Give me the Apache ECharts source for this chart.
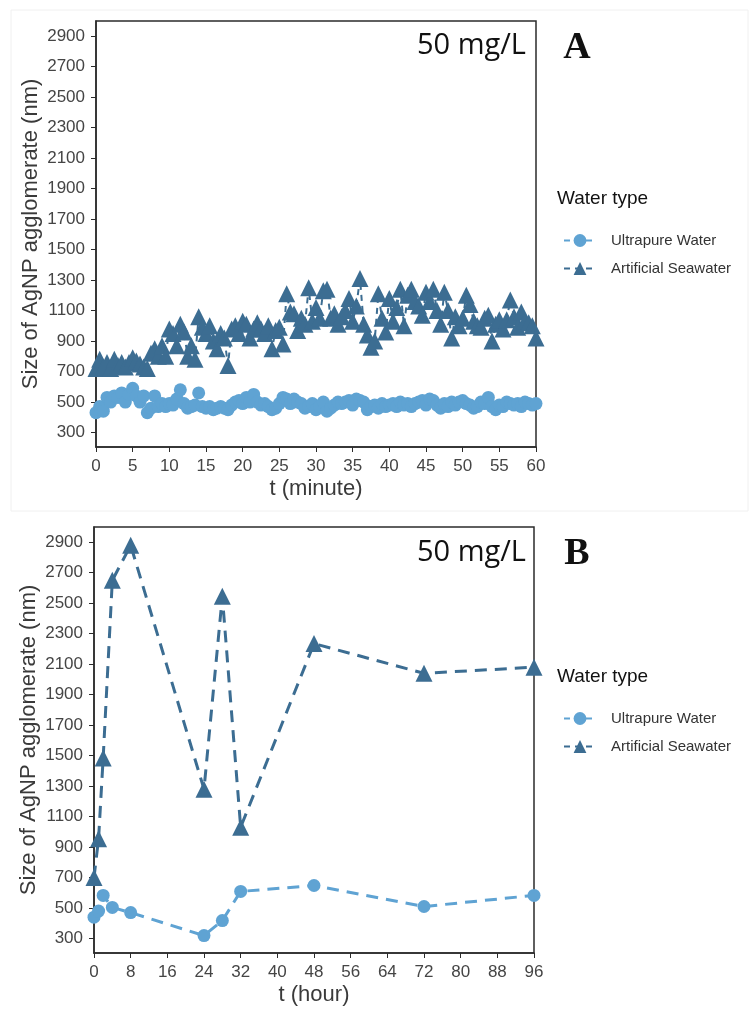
<!DOCTYPE html>
<html>
<head>
<meta charset="utf-8">
<script src="https://cdn.jsdelivr.net/npm/echarts@6/dist/echarts.min.js"></script>
<style>
  html, body { margin: 0; padding: 0; background: #fff; }
  #chart { width: 749px; height: 1009px; }
</style>
</head>
<body>
<div id="chart"></div>
<script>
// Panel A: first hour, sampled every 0.5 minute
const minutes = [
  0, 0.5, 1, 1.5, 2, 2.5, 3, 3.5, 4, 4.5,
  5, 5.5, 6, 6.5, 7, 7.5, 8, 8.5, 9, 9.5,
  10, 10.5, 11, 11.5, 12, 12.5, 13, 13.5, 14, 14.5,
  15, 15.5, 16, 16.5, 17, 17.5, 18, 18.5, 19, 19.5,
  20, 20.5, 21, 21.5, 22, 22.5, 23, 23.5, 24, 24.5,
  25, 25.5, 26, 26.5, 27, 27.5, 28, 28.5, 29, 29.5,
  30, 30.5, 31, 31.5, 32, 32.5, 33, 33.5, 34, 34.5,
  35, 35.5, 36, 36.5, 37, 37.5, 38, 38.5, 39, 39.5,
  40, 40.5, 41, 41.5, 42, 42.5, 43, 43.5, 44, 44.5,
  45, 45.5, 46, 46.5, 47, 47.5, 48, 48.5, 49, 49.5,
  50, 50.5, 51, 51.5, 52, 52.5, 53, 53.5, 54, 54.5,
  55, 55.5, 56, 56.5, 57, 57.5, 58, 58.5, 59, 59.5,
  60
];
const ultrapureA = [
  430, 470, 440, 530, 500, 540, 530, 560, 500, 550,
  590, 540, 500, 540, 430, 460, 540, 470, 490, 470,
  490, 480, 520, 580, 490, 460, 470, 480, 560, 470,
  460, 470, 450, 460, 470, 460, 450, 480, 500, 510,
  490, 530, 500, 550, 500, 480, 490, 470, 450, 460,
  490, 530, 520, 490, 520, 500, 490, 460, 470, 490,
  450, 470, 500, 440, 460, 480, 500, 490, 500, 510,
  480, 520, 510, 500, 450, 470, 480, 460, 490, 470,
  480, 490, 470, 500, 480, 490, 470, 490, 500, 510,
  480, 520, 510, 480, 460, 490, 470, 500, 480, 500,
  510, 490, 480, 460, 470, 500, 490, 530, 470, 450,
  480, 470, 500, 490, 480, 490, 470, 500, 490, 480,
  490
];
const seawaterA = [
  720, 780, 730, 760, 720, 780, 740, 760, 730, 760,
  790, 770, 750, 730, 720, 820, 850, 800, 870, 800,
  980, 950, 870, 1010, 960, 800, 870, 780, 1060, 990,
  950, 1000, 900, 850, 950, 920, 740, 980, 1000, 950,
  1030, 1010, 920, 980, 1020, 980, 950, 1000, 850, 970,
  990, 880, 1210, 1090, 1080, 970, 1050, 1010, 1250, 1030,
  1120, 1050, 1230, 1240, 1050, 1080, 1010, 1060, 1100, 1180,
  1030, 1130, 1310, 1010, 940, 860, 900, 1210, 1050, 960,
  1180, 1030, 1120, 1240, 1000, 1200, 1240, 1160, 1130, 1070,
  1220, 1160, 1240, 1100, 1010, 1220, 1100, 920, 1060, 1000,
  1050, 1200, 1140, 1030, 1000, 990, 1050, 1070, 900, 1010,
  1040, 980, 1040, 1170, 1060, 990, 1090, 1030, 1020, 1000,
  920
];

// Panel B: four days
const hours = [0, 1, 2, 4, 8, 24, 28, 32, 48, 72, 96];
const ultrapureB = [440, 480, 583, 504, 470, 319, 418, 609, 648, 510, 583];
const seawaterB = [700, 955, 1485, 2650, 2880, 1280, 2545, 1030, 2235, 2040, 2080];

// Tick labels
const sizeTicks = [300, 500, 700, 900, 1100, 1300, 1500, 1700, 1900, 2100, 2300, 2500, 2700, 2900];
const seriesNames = ['Ultrapure Water', 'Artificial Seawater'];
const concentrationLabel = '50 mg/L';
const panelLetters = ['A', 'B'];
const legendTitle = 'Water type';
const yTitle = 'Size of AgNP agglomerate (nm)';
const xTitles = ['t (minute)', 't (hour)'];

const colUltra = '#5fa3d3';
const colSea = '#3c6d92';
const sans = 'Liberation Sans, Arial, sans-serif';
const axisColor = '#2b2b2b';
const labelColor = '#454545';

const pairs = (xs, ys) => xs.map((x, i) => [x, ys[i]]);
const plain = v => String(v);

function yAxisFor(gridIndex) {
  return {
    type: 'value', gridIndex: gridIndex, min: 205, max: 3000,
    name: yTitle, nameLocation: 'middle', nameGap: 54, nameMoveOverlap: false,
    nameTextStyle: { fontFamily: sans, fontSize: 22, color: '#3a3a3a' },
    axisLine: { show: true, lineStyle: { color: axisColor, width: 1.5 } },
    axisTick: { show: true, length: 5, lineStyle: { color: axisColor }, customValues: sizeTicks },
    axisLabel: { fontFamily: sans, fontSize: 17, color: labelColor, margin: 11,
      customValues: sizeTicks, formatter: plain },
    splitLine: { show: false }
  };
}
function xAxisFor(gridIndex, max, interval, title) {
  return {
    type: 'value', gridIndex: gridIndex, min: 0, max: max, interval: interval,
    name: title, nameLocation: 'middle', nameGap: 31,
    nameTextStyle: { fontFamily: sans, fontSize: 22, color: '#3a3a3a' },
    axisLine: { show: true, lineStyle: { color: axisColor, width: 1.5 } },
    axisTick: { show: true, length: 5, lineStyle: { color: axisColor } },
    axisLabel: { fontFamily: sans, fontSize: 17, color: labelColor, margin: 11, formatter: plain },
    splitLine: { show: false }
  };
}
function lineSeries(name, idx, data, symbol, color, size, dash, width) {
  return {
    name: name, type: 'line', xAxisIndex: idx, yAxisIndex: idx, data: data,
    symbol: symbol, symbolSize: size, showAllSymbol: true,
    itemStyle: { color: color },
    lineStyle: { color: color, width: width, type: dash },
    z: symbol === 'triangle' ? 3 : 2
  };
}

const legendBox = top => ({
  orient: 'vertical', left: 558, top: top, itemWidth: 32, itemHeight: 16, itemGap: 13,
  data: seriesNames, selectedMode: false,
  textStyle: { fontFamily: sans, fontSize: 15, color: '#333', padding: [0, 0, 0, 10] }
});
const textMark = (x, y, text, font, align) => ({
  type: 'text', x: x, y: y,
  style: { text: text, font: font, fill: '#111', textAlign: align, textVerticalAlign: 'middle' }
});

const chart = echarts.init(document.getElementById('chart'), null, { renderer: 'canvas' });
chart.setOption({
  animation: false,
  backgroundColor: '#ffffff',
  grid: [
    { left: 96, top: 21, width: 440, height: 426, show: true, borderColor: axisColor, borderWidth: 1.5 },
    { left: 94, top: 527, width: 440, height: 426, show: true, borderColor: axisColor, borderWidth: 1.5 }
  ],
  xAxis: [xAxisFor(0, 60, 5, xTitles[0]), xAxisFor(1, 96, 8, xTitles[1])],
  yAxis: [yAxisFor(0), yAxisFor(1)],
  legend: [legendBox(228), legendBox(706)],
  graphic: [
    { type: 'rect', shape: { x: 11, y: 10, width: 737, height: 501 }, silent: true,
      style: { fill: 'none', stroke: '#f0f0f0', lineWidth: 1 }, z: -1 },
    textMark(526, 46, concentrationLabel, '29px "Open Sans", sans-serif', 'right'),
    textMark(526, 553, concentrationLabel, '29px "Open Sans", sans-serif', 'right'),
    textMark(577, 48, panelLetters[0], 'bold 38px "Liberation Serif", serif', 'center'),
    textMark(577, 554, panelLetters[1], 'bold 38px "Liberation Serif", serif', 'center'),
    textMark(557, 199, legendTitle, '19px "Liberation Sans", Arial, sans-serif', 'left'),
    textMark(557, 677, legendTitle, '19px "Liberation Sans", Arial, sans-serif', 'left')
  ],
  series: [
    lineSeries(seriesNames[0], 0, pairs(minutes, ultrapureA), 'circle', colUltra, 13, [6, 5], 2),
    lineSeries(seriesNames[1], 0, pairs(minutes, seawaterA), 'triangle', colSea, 17, [6, 5], 2),
    lineSeries(seriesNames[0], 1, pairs(hours, ultrapureB), 'circle', colUltra, 13, [12, 8], 3),
    lineSeries(seriesNames[1], 1, pairs(hours, seawaterB), 'triangle', colSea, 17, [12, 8], 3)
  ]
});
</script>
</body>
</html>
